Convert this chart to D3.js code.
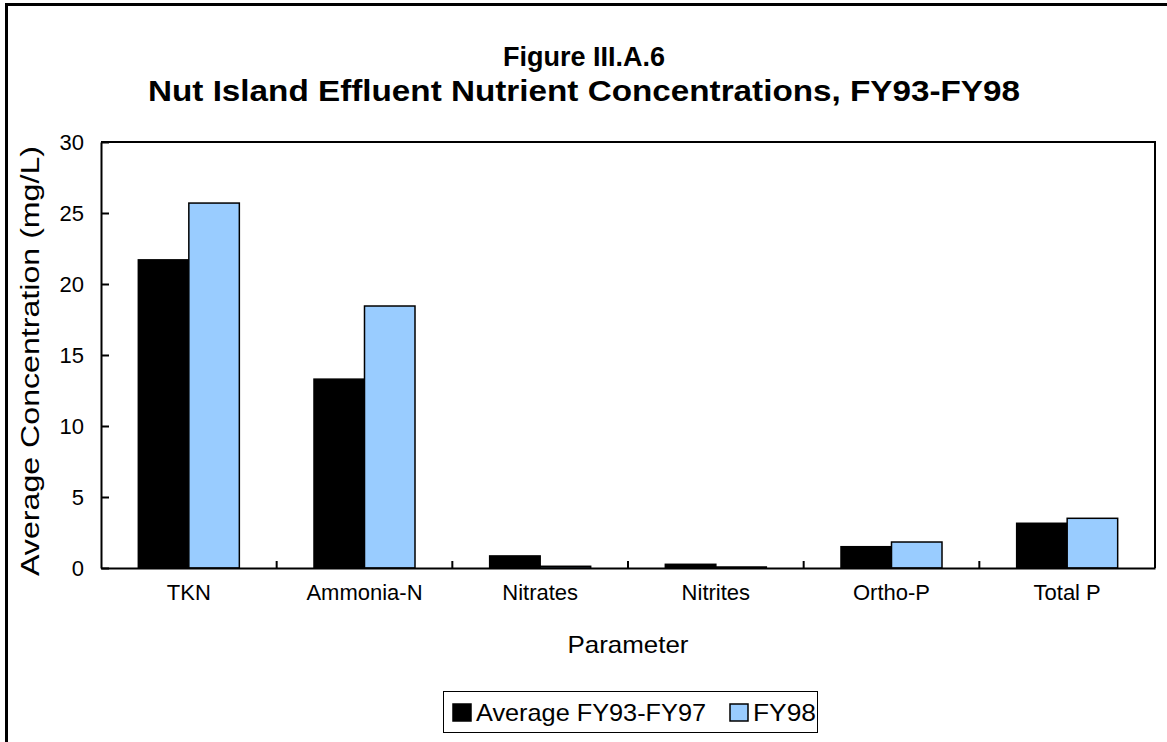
<!DOCTYPE html>
<html>
<head>
<meta charset="utf-8">
<script src="https://cdn.jsdelivr.net/npm/d3@7"></script>
<style>
  body { margin: 0; background: #fff; }
  text { font-family: Arial, "Liberation Sans", sans-serif; fill: #000; }
</style>
</head>
<body>
<svg id="chart" width="1167" height="742"></svg>
<script>
var categories = ["TKN", "Ammonia-N", "Nitrates", "Nitrites", "Ortho-P", "Total P"];
var seriesNames = ["Average FY93-FY97", "FY98"];
var avgFY93to97 = [21.7, 13.3, 0.85, 0.26, 1.5, 3.15];
var fy98 = [25.7, 18.45, 0.12, 0.07, 1.83, 3.5];
var yTicks = [0, 5, 10, 15, 20, 25, 30];
var colors = ["#000000", "#99ccff"];

var svg = d3.select("#chart");

var plotL = 101, plotR = 1155, plotT = 142, plotB = 568;

// outer frame (runs off the right / bottom of the picture)
svg.append("rect")
  .attr("x", 6.5).attr("y", 4.5)
  .attr("width", 1300).attr("height", 900)
  .attr("fill", "none").attr("stroke", "#000").attr("stroke-width", 3);

// title
svg.append("text")
  .attr("x", 584).attr("y", 66)
  .attr("text-anchor", "middle")
  .style("font-weight", "bold").style("font-size", "27px")
  .attr("textLength", 162).attr("lengthAdjust", "spacingAndGlyphs")
  .text("Figure III.A.6");
svg.append("text")
  .attr("x", 584).attr("y", 101)
  .attr("text-anchor", "middle")
  .style("font-weight", "bold").style("font-size", "29px")
  .attr("textLength", 872).attr("lengthAdjust", "spacingAndGlyphs")
  .text("Nut Island Effluent Nutrient Concentrations, FY93-FY98");

var x = d3.scaleBand().domain(categories).range([plotL, plotR])
  .paddingInner(0.425).paddingOuter(0.2125);
var xs = d3.scaleBand().domain(seriesNames).range([0, x.bandwidth()]);
var y = d3.scaleLinear().domain([0, 30]).range([plotB, plotT]);

// plot frame top/right
svg.append("path")
  .attr("d", "M" + plotL + "," + plotT + "H" + plotR + "V" + plotB)
  .attr("fill", "none").attr("stroke", "#000").attr("stroke-width", 2);

var data = categories.map(function(c, i) {
  return { cat: c, vals: [avgFY93to97[i], fy98[i]] };
});

var groups = svg.append("g").selectAll("g")
  .data(data).enter().append("g")
  .attr("transform", function(d) { return "translate(" + x(d.cat) + ",0)"; });

groups.selectAll("rect")
  .data(function(d) { return d.vals.map(function(v, j) { return { s: seriesNames[j], v: v, j: j }; }); })
  .enter().append("rect")
  .attr("x", function(d) { return xs(d.s); })
  .attr("y", function(d) { return y(d.v); })
  .attr("width", xs.bandwidth())
  .attr("height", function(d) { return y(0) - y(d.v); })
  .attr("fill", function(d) { return colors[d.j]; })
  .attr("stroke", "#000").attr("stroke-width", 1.5);

// y axis
var yAxis = svg.append("g")
  .attr("transform", "translate(" + plotL + ",0)")
  .call(d3.axisLeft(y).tickValues(yTicks).tickSizeInner(-8).tickSizeOuter(0).tickPadding(17));
yAxis.select(".domain").attr("stroke-width", 2);
yAxis.selectAll(".tick line").attr("stroke-width", 2);
yAxis.selectAll("text").style("font-size", "22px").style("font-family", "Arial, 'Liberation Sans', sans-serif");

// x axis with ticks between categories
var xAxis = svg.append("g")
  .attr("transform", "translate(0," + plotB + ")")
  .call(d3.axisBottom(x).tickSize(0).tickPadding(16));
xAxis.select(".domain").attr("stroke-width", 2);
xAxis.selectAll("text").style("font-size", "22px").style("font-family", "Arial, 'Liberation Sans', sans-serif");

var bounds = categories.slice(1).map(function(c) { return x(c) - x.step() * x.paddingInner() / 2; });
xAxis.selectAll(".sep").data(bounds).enter().append("line")
  .attr("x1", function(d) { return d; }).attr("x2", function(d) { return d; })
  .attr("y1", 0).attr("y2", -7)
  .attr("stroke", "#000").attr("stroke-width", 2);

// axis titles
svg.append("text")
  .attr("transform", "translate(39," + ((plotT + plotB) / 2 + 6) + ") rotate(-90)")
  .attr("text-anchor", "middle")
  .style("font-size", "25px")
  .attr("textLength", 430).attr("lengthAdjust", "spacingAndGlyphs")
  .text("Average Concentration (mg/L)");

svg.append("text")
  .attr("x", (plotL + plotR) / 2).attr("y", 653)
  .attr("text-anchor", "middle")
  .style("font-size", "24px")
  .attr("textLength", 121).attr("lengthAdjust", "spacingAndGlyphs")
  .text("Parameter");

// legend
var legend = svg.append("g");
legend.append("rect")
  .attr("x", 443.5).attr("y", 691.5).attr("width", 374).attr("height", 41)
  .attr("fill", "#fff").attr("stroke", "#000").attr("stroke-width", 1);
var legendX = [453, 730];
var legendW = [230, 63];
seriesNames.forEach(function(s, i) {
  legend.append("rect")
    .attr("x", legendX[i]).attr("y", 704).attr("width", 18).attr("height", 17)
    .attr("fill", colors[i]).attr("stroke", "#000").attr("stroke-width", 1.5);
  legend.append("text")
    .attr("x", legendX[i] + 23).attr("y", 721)
    .style("font-size", "24px")
    .attr("textLength", legendW[i]).attr("lengthAdjust", "spacingAndGlyphs")
    .text(s);
});
</script>
</body>
</html>
